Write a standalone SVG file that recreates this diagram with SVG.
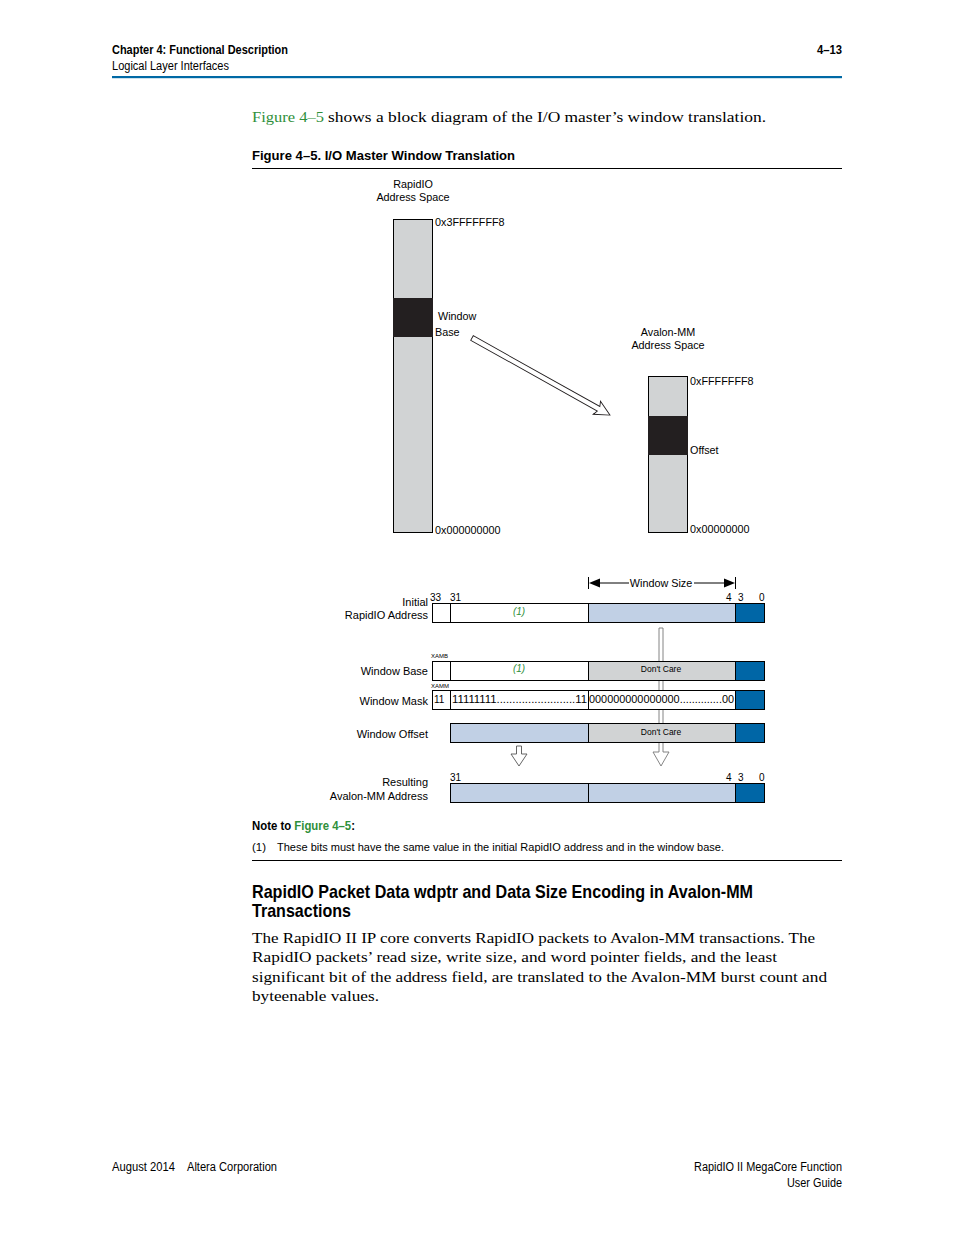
<svg xmlns="http://www.w3.org/2000/svg" width="954" height="1235" viewBox="0 0 954 1235">
<style>
.hb{font-family:"Liberation Sans",Arial,sans-serif;font-weight:bold;fill:#000}
.hr{font-family:"Liberation Sans",Arial,sans-serif;fill:#000}
.sf{font-family:"Liberation Serif","Times New Roman",serif;font-size:15.5px;fill:#000}
.d{font-family:"Liberation Sans",Arial,sans-serif;font-size:10.8px;fill:#000}
.lb{font-family:"Liberation Sans",Arial,sans-serif;font-size:11px;fill:#000;text-anchor:end}
.bn{font-family:"Liberation Sans",Arial,sans-serif;font-size:10px;fill:#000}
.tiny{font-family:"Liberation Sans",Arial,sans-serif;font-size:6px;fill:#000}
.dc{font-family:"Liberation Sans",Arial,sans-serif;font-size:8.5px;fill:#000;text-anchor:middle}
.g{fill:#2f8f3a}
.gi{font-family:"Liberation Sans",Arial,sans-serif;font-size:10px;font-style:italic;fill:#2f8f3a;text-anchor:middle}
.box{stroke:#000;stroke-width:1}
.w{fill:#fff}
.lt{fill:#c1d0e5}
.gr{fill:#d1d3d4}
.dk{fill:#0066a6}
.blk{fill:#231f20}
</style>

<!-- header -->
<g id="header">
<text class="hb" x="112" y="54" font-size="12" textLength="176" lengthAdjust="spacingAndGlyphs">Chapter 4:  Functional Description</text>
<text class="hb" x="817" y="54" font-size="12" textLength="25" lengthAdjust="spacingAndGlyphs">4–13</text>
<text class="hr" x="112" y="70" font-size="12" textLength="117" lengthAdjust="spacingAndGlyphs">Logical Layer Interfaces</text>
<rect x="112" y="76" width="730" height="2.2" fill="#0069a5"/>
</g>

<g id="intro">
<text class="sf g" x="252" y="122" textLength="72" lengthAdjust="spacingAndGlyphs">Figure 4–5</text>
<text class="sf" x="328" y="122" textLength="438" lengthAdjust="spacingAndGlyphs">shows a block diagram of the I/O master’s window translation.</text>
<text class="hb" x="252" y="160" font-size="13.5" textLength="263" lengthAdjust="spacingAndGlyphs">Figure 4–5.  I/O Master Window Translation</text>
<rect x="252" y="168" width="590" height="1" fill="#000"/>
</g>

<!-- RapidIO address space -->
<g id="rapidio-space">
<text class="d" x="413" y="188" text-anchor="middle">RapidIO</text>
<text class="d" x="413" y="201" text-anchor="middle">Address Space</text>
<rect class="gr box" x="393.5" y="219.5" width="39" height="313"/>
<rect class="blk" x="393" y="298" width="40" height="39"/>
<text class="d" x="435" y="226">0x3FFFFFFF8</text>
<text class="d" x="438" y="320">Window</text>
<text class="d" x="435" y="336">Base</text>
<text class="d" x="435" y="534">0x000000000</text>
</g>

<!-- Avalon-MM address space -->
<g id="avalon-space">
<text class="d" x="668" y="336" text-anchor="middle">Avalon-MM</text>
<text class="d" x="668" y="349" text-anchor="middle">Address Space</text>
<rect class="gr box" x="648.5" y="376.5" width="39" height="156"/>
<rect class="blk" x="648" y="416" width="40" height="39"/>
<text class="d" x="690" y="385">0xFFFFFFF8</text>
<text class="d" x="690" y="454">Offset</text>
<text class="d" x="690" y="533">0x00000000</text>
</g>

<g id="connectors">
<g transform="translate(472,338) rotate(29.2)">
<polygon points="0,-2.6 145,-2.6 143,-7.5 158,0 143,7.5 145,2.6 0,2.6" fill="#fff" stroke="#231f20" stroke-width="0.9"/>
</g>
<!-- double-line arrow behind rows -->
<polygon points="659,628 663,628 663,752 669,752 661,766 653,752 659,752" fill="#fff" stroke="#777" stroke-width="0.9"/>
<polygon points="516.5,746 521.5,746 521.5,754 527,754 519,766 511,754 516.5,754" fill="#fff" stroke="#555" stroke-width="0.9"/>
<!-- window size dimension -->
<line x1="588.5" y1="577" x2="588.5" y2="589" stroke="#000" stroke-width="1"/>
<line x1="735.5" y1="577" x2="735.5" y2="589" stroke="#000" stroke-width="1"/>
<line x1="598" y1="583" x2="629" y2="583" stroke="#000" stroke-width="1"/>
<line x1="694" y1="583" x2="726" y2="583" stroke="#000" stroke-width="1"/>
<polygon points="589,583 600,578.5 600,587.5" fill="#000"/>
<polygon points="735,583 724,578.5 724,587.5" fill="#000"/>
<text class="d" x="661" y="587" text-anchor="middle">Window Size</text>
</g>

<!-- Row 1 -->
<g id="row-initial">
<text class="lb" x="428" y="606">Initial</text>
<text class="lb" x="428" y="619">RapidIO Address</text>
<text class="bn" x="430" y="601">33</text>
<text class="bn" x="450" y="601">31</text>
<text class="bn" x="726" y="601">4</text>
<text class="bn" x="738" y="601">3</text>
<text class="bn" x="759" y="601">0</text>
<rect class="w box" x="432.5" y="603.5" width="18" height="19"/>
<rect class="w box" x="450.5" y="603.5" width="138" height="19"/>
<rect class="lt box" x="588.5" y="603.5" width="147" height="19"/>
<rect class="dk box" x="735.5" y="603.5" width="29" height="19"/>
<text class="gi" x="519" y="615">(1)</text>
</g>

<!-- Row 2 -->
<g id="row-window-base">
<text class="tiny" x="431" y="658">XAMB</text>
<text class="lb" x="428" y="675">Window Base</text>
<rect class="w box" x="432.5" y="661.5" width="18" height="19"/>
<rect class="w box" x="450.5" y="661.5" width="138" height="19"/>
<rect class="gr box" x="588.5" y="661.5" width="147" height="19"/>
<rect class="dk box" x="735.5" y="661.5" width="29" height="19"/>
<text class="gi" x="519" y="672">(1)</text>
<text class="dc" x="661" y="672">Don't Care</text>
</g>

<!-- Row 3 -->
<g id="row-window-mask">
<text class="tiny" x="431" y="688">XAMM</text>
<text class="lb" x="428" y="705">Window Mask</text>
<rect class="w box" x="432.5" y="690.5" width="18" height="19"/>
<rect class="w box" x="450.5" y="690.5" width="138" height="19"/>
<rect class="w box" x="588.5" y="690.5" width="147" height="19"/>
<rect class="dk box" x="735.5" y="690.5" width="29" height="19"/>
<text class="bn" x="434" y="703">11</text>
<text class="bn" x="452" y="703" textLength="135" lengthAdjust="spacingAndGlyphs">11111111.........................11</text>
<text class="bn" x="589" y="703" textLength="145" lengthAdjust="spacingAndGlyphs">000000000000000..............00</text>
</g>

<!-- Row 4 -->
<g id="row-window-offset">
<text class="lb" x="428" y="738">Window Offset</text>
<rect class="lt box" x="450.5" y="723.5" width="138" height="19"/>
<rect class="gr box" x="588.5" y="723.5" width="147" height="19"/>
<rect class="dk box" x="735.5" y="723.5" width="29" height="19"/>
<text class="dc" x="661" y="735">Don't Care</text>
</g>

<!-- Row 5 -->
<g id="row-result">
<text class="lb" x="428" y="786">Resulting</text>
<text class="lb" x="428" y="800">Avalon-MM Address</text>
<text class="bn" x="450" y="781">31</text>
<text class="bn" x="726" y="781">4</text>
<text class="bn" x="738" y="781">3</text>
<text class="bn" x="759" y="781">0</text>
<rect class="lt box" x="450.5" y="783.5" width="138" height="19"/>
<rect class="lt box" x="588.5" y="783.5" width="147" height="19"/>
<rect class="dk box" x="735.5" y="783.5" width="29" height="19"/>
</g>

<!-- note -->
<g id="note">
<text class="hb" x="252" y="830" font-size="12.5" textLength="103" lengthAdjust="spacingAndGlyphs">Note to <tspan class="g">Figure 4–5</tspan>:</text>
<text class="hr" x="252" y="851" font-size="11.5" textLength="14" lengthAdjust="spacingAndGlyphs">(1)</text>
<text class="hr" x="277" y="851" font-size="11.5" textLength="447" lengthAdjust="spacingAndGlyphs">These bits must have the same value in the initial RapidIO address and in the window base.</text>
<rect x="252" y="860" width="590" height="1" fill="#000"/>
</g>

<g id="section">
<text class="hb" x="252" y="898" font-size="18.5" textLength="501" lengthAdjust="spacingAndGlyphs">RapidIO Packet Data wdptr and Data Size Encoding in Avalon-MM</text>
<text class="hb" x="252" y="917" font-size="18.5" textLength="99" lengthAdjust="spacingAndGlyphs">Transactions</text>
<text class="sf" x="252" y="943" textLength="563" lengthAdjust="spacingAndGlyphs">The RapidIO II IP core converts RapidIO packets to Avalon-MM transactions. The</text>
<text class="sf" x="252" y="962" textLength="525" lengthAdjust="spacingAndGlyphs">RapidIO packets’ read size, write size, and word pointer fields, and the least</text>
<text class="sf" x="252" y="982" textLength="575" lengthAdjust="spacingAndGlyphs">significant bit of the address field, are translated to the Avalon-MM burst count and</text>
<text class="sf" x="252" y="1001" textLength="127" lengthAdjust="spacingAndGlyphs">byteenable values.</text>
</g>

<g id="footer">
<text class="hr" x="112" y="1171" font-size="12" textLength="63" lengthAdjust="spacingAndGlyphs">August 2014</text>
<text class="hr" x="187" y="1171" font-size="12" textLength="90" lengthAdjust="spacingAndGlyphs">Altera Corporation</text>
<text class="hr" x="694" y="1171" font-size="12" textLength="148" lengthAdjust="spacingAndGlyphs">RapidIO II MegaCore Function</text>
<text class="hr" x="787" y="1187" font-size="12" textLength="55" lengthAdjust="spacingAndGlyphs">User Guide</text>
</g>
</svg>
